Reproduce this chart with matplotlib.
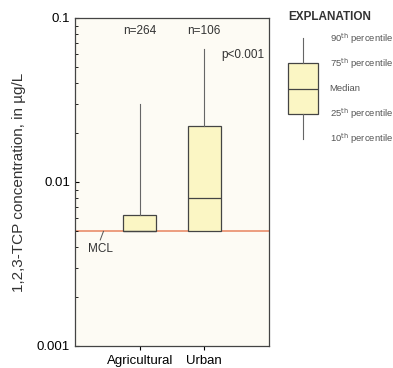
import numpy as np
import matplotlib
matplotlib.use("Agg")
import matplotlib.pyplot as plt

plt.rcParams['font.family'] = ['Liberation Sans', 'DejaVu Sans']

# data (ug/L)
groups = ["Agricultural", "Urban"]
counts = [264, 106]
p10 = [0.005, 0.005]
p25 = [0.005, 0.005]
p50 = [0.005, 0.008]
p75 = [0.0063, 0.022]
p90 = [0.03, 0.065]
mcl = 0.005

legend_labels = ["90$^{\\rm th}$ percentile", "75$^{\\rm th}$ percentile", "Median",
                 "25$^{\\rm th}$ percentile", "10$^{\\rm th}$ percentile"]
legend_vals = [10, 30, 50, 70, 90]  # nominal positions for explanation box

box_face = "#fbf6c4"
edge = "#444444"

fig = plt.figure(figsize=(3.93, 3.68), dpi=100)
ax = fig.add_axes([75/393, 1 - 346/368, 194/393, 328/368])
ax.set_facecolor("#fdfbf4")

stats = []
for i in range(len(groups)):
    stats.append(dict(whislo=p10[i], q1=p25[i], med=p50[i], q3=p75[i],
                      whishi=p90[i], fliers=[], label=groups[i]))

ax.axhline(mcl, color="#e8845e", lw=1.1, zorder=1)
ax.bxp(stats, positions=[1, 2], widths=0.52, patch_artist=True, showcaps=False,
       boxprops=dict(facecolor=box_face, edgecolor=edge, lw=0.9),
       medianprops=dict(color=edge, lw=0.9),
       whiskerprops=dict(color="#666666", lw=0.8), zorder=2)

ax.set_yscale("log")
ax.set_ylim(0.001, 0.1)
ax.set_xlim(0, 3)
ax.set_yticks([0.001, 0.01, 0.1])
ax.set_yticklabels(["0.001", "0.01", "0.1"])
ax.tick_params(axis="y", which="both", direction="in", labelsize=9.5, length=3)
ax.tick_params(axis="y", which="minor", length=2)
ax.tick_params(axis="x", direction="out", labelsize=9.5, length=3)
for s in ax.spines.values():
    s.set_color("#444444")
    s.set_linewidth(0.9)
ax.set_ylabel("1,2,3-TCP concentration, in µg/L", fontsize=11, color="#333333",
              labelpad=8)

for i, n in enumerate(counts):
    ax.text(i + 1, 0.083, f"n={n}", ha="center", va="center", fontsize=8.5, color="#333333")
ax.text(2.93, 0.0595, "p<0.001", ha="right", va="center", fontsize=8.5, color="#333333")

# MCL label with short leader
ax.plot([0.44, 0.39], [mcl, 0.00443], color="#555555", lw=0.7, zorder=3)
ax.text(0.39, 0.0039, "MCL", fontsize=8.5, ha="center", va="center", color="#333333")

# explanation
fig.text(288/393, 1 - 17/368, "EXPLANATION", fontsize=8.5, fontweight="bold",
         va="center", color="#333333")
lax = fig.add_axes([280/393, 1 - 145/368, 46/393, 113/368])
lax.axis("off")
lax.set_ylim(95, 5)
lax.set_xlim(0, 1)
lax.bxp([dict(whislo=legend_vals[0], q1=legend_vals[1], med=legend_vals[2],
              q3=legend_vals[3], whishi=legend_vals[4], fliers=[])],
        positions=[0.5], widths=0.66, patch_artist=True, showcaps=False,
        boxprops=dict(facecolor=box_face, edgecolor=edge, lw=0.9),
        medianprops=dict(color=edge, lw=0.9),
        whiskerprops=dict(color="#666666", lw=0.8))
for lab, v in zip(legend_labels, legend_vals):
    lax.text(1.08, v, lab, fontsize=6.8, va="center", color="#555555", clip_on=False)

fig.savefig("out.png", dpi=100)
